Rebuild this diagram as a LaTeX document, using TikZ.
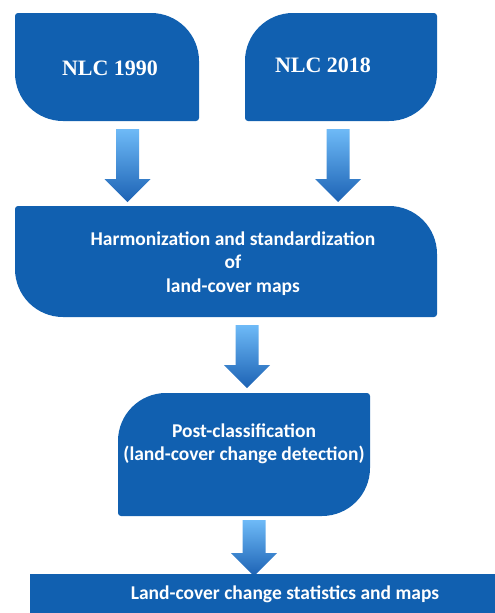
\documentclass[tikz,border=0pt]{standalone}
\usepackage{fontspec}
\setmainfont{Liberation Serif}
\newfontfamily\calib{Carlito}
\definecolor{boxblue}{RGB}{17,96,176}
\definecolor{arrtop}{RGB}{110,186,247}
\definecolor{arrbot}{RGB}{28,98,180}
% leaf shape, big corners top-right & bottom-left: L R T B (px, y down)
\newcommand\leafTRBL[4]{%
  \fill[boxblue] ({#1+3},-#3) -- ({#2-48},-#3) arc[start angle=90,end angle=0,radius=48]
   -- (#2,{-#4+3}) arc[start angle=0,end angle=-90,radius=3]
   -- ({#1+48},-#4) arc[start angle=-90,end angle=-180,radius=48]
   -- (#1,{-#3-3}) arc[start angle=180,end angle=90,radius=3] -- cycle;}
% leaf shape, big corners top-left & bottom-right
\newcommand\leafTLBR[4]{%
  \fill[boxblue] ({#1+48},-#3) -- ({#2-3},-#3) arc[start angle=90,end angle=0,radius=3]
   -- (#2,{-#4+48}) arc[start angle=0,end angle=-90,radius=48]
   -- ({#1+3},-#4) arc[start angle=-90,end angle=-180,radius=3]
   -- (#1,{-#3-48}) arc[start angle=180,end angle=90,radius=48] -- cycle;}
% block arrow: centre x, shaft top, head top, tip
\newcommand\blockarr[4]{%
  \shade[top color=arrtop,bottom color=arrbot] ({#1-11.5},-#2) -- ({#1+11.5},-#2) -- ({#1+11.5},-#3)
   -- ({#1+23},-#3) -- (#1,-#4) -- ({#1-23},-#3) -- ({#1-11.5},-#3) -- cycle;}
\tikzset{
  serlab/.style={text=white,font=\bfseries\fontsize{22}{26}\selectfont,align=center},
  sanlab/.style={text=white,font=\calib\bfseries\fontsize{19.5}{23.5}\selectfont,align=center}
}
\begin{document}
\begin{tikzpicture}[x=1pt,y=1pt]
\useasboundingbox (0,0) rectangle (495,-613);
\leafTRBL{15}{199}{13}{121}
\node[serlab] (n1990) at (110,-68) {NLC 1990};
\leafTLBR{245}{437}{13}{121}
\node[serlab] (n2018) at (323,-65) {NLC 2018};
\blockarr{127.5}{129}{179}{202}
\blockarr{338}{129}{179}{202}
\leafTRBL{15}{437}{206}{317}
\node[sanlab] (harm) at (233,-263.5) {Harmonization and standardization\\of\\land-cover maps};
\blockarr{247}{325}{365}{388}
\leafTLBR{118}{370}{393}{516}
\node[sanlab] (post) at (244,-444) {Post-classification\\(land-cover change detection)};
\blockarr{254}{520}{553}{576}
\fill[boxblue] (30,-574) rectangle (500,-615);
\node[sanlab] (stats) at (285,-594) {Land-cover change statistics and maps};
\end{tikzpicture}
\end{document}
